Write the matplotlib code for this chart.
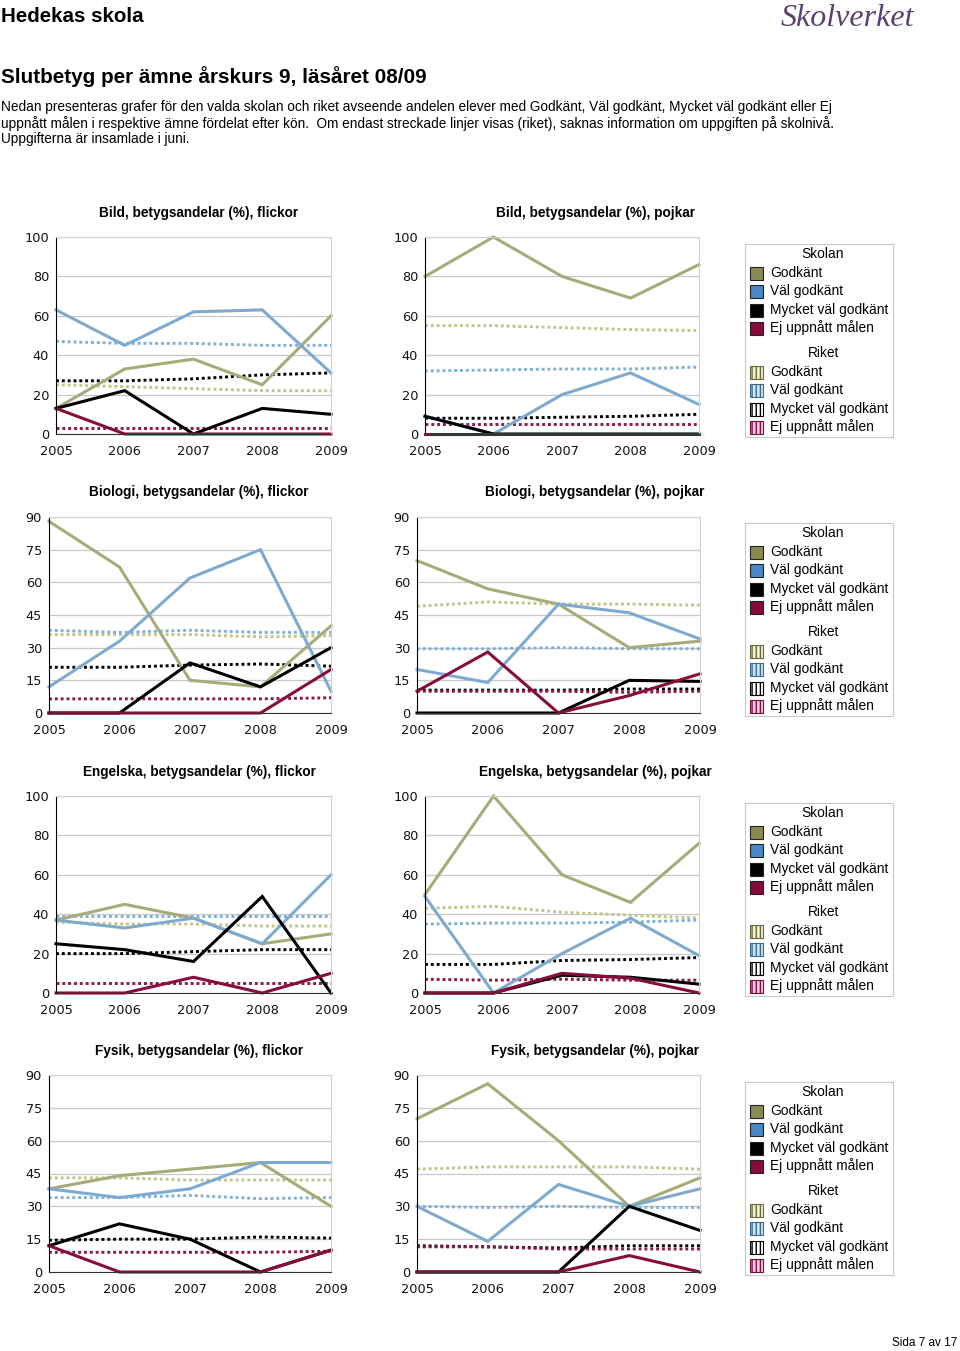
import matplotlib
matplotlib.use("Agg")
import matplotlib.pyplot as plt
from matplotlib.patches import Rectangle

# ---- data ----
years = [2005, 2006, 2007, 2008, 2009]
series_names = ["Godkänt", "Väl godkänt", "Mycket väl godkänt", "Ej uppnått målen"]

# order in each list: Godkänt, Väl godkänt, Mycket väl godkänt, Ej uppnått målen
bild_flickor_skolan = [[13, 33, 38, 25, 60], [63, 45, 62, 63, 31], [13, 22, 0, 13, 10], [13, 0, 0, 0, 0]]
bild_flickor_riket = [[25, 24, 23, 22, 22], [47, 46, 46, 45, 45], [27, 27, 28, 30, 31], [3, 3, 3, 3, 3]]
bild_pojkar_skolan = [[80, 100, 80, 69, 86], [9, 0, 20, 31, 15], [9, 0, 0, 0, 0], [0, 0, 0, 0, 0]]
bild_pojkar_riket = [[55, 55, 54, 53, 52.5], [32, 32.5, 33, 33, 34], [8, 8, 8.5, 9, 10], [5, 5, 5, 5, 5]]

bio_flickor_skolan = [[88, 67, 15, 12, 40], [12, 33, 62, 75, 10], [0, 0, 23, 12, 30], [0, 0, 0, 0, 20]]
bio_flickor_riket = [[36, 36, 36, 35, 35.5], [38, 37, 38, 37, 37], [21, 21, 22, 22.5, 21.5], [6.5, 6.5, 6.5, 6.5, 7]]
bio_pojkar_skolan = [[70, 57, 50, 30, 33], [20, 14, 50, 46, 34], [0, 0, 0, 15, 14.5], [10, 28, 0, 8, 18]]
bio_pojkar_riket = [[49, 51, 50, 50, 49.5], [29.5, 29.5, 30, 29.5, 29.5], [10.5, 10.5, 10.5, 11, 11], [10, 10, 10, 9.5, 10]]

eng_flickor_skolan = [[37, 45, 38, 25, 30], [37, 33, 38, 25, 60], [25, 22, 16, 49, 0], [0, 0, 8, 0, 10]]
eng_flickor_riket = [[36, 35, 35, 34, 34], [39, 39, 39, 39, 39], [20, 20, 21, 22, 22], [5, 5, 5, 5, 5]]
eng_pojkar_skolan = [[50, 100, 60, 46, 76], [49, 0, 20, 38, 19], [0, 0, 9, 8, 4.5], [0, 0, 10, 7.5, 0]]
eng_pojkar_riket = [[43, 44, 41, 39.5, 38], [35, 35.5, 35.5, 36, 37], [14.5, 14.5, 16.5, 17, 18], [7, 6.5, 7, 6.5, 6.5]]

fys_flickor_skolan = [[38, 44, 47, 50, 30], [38, 34, 38, 50, 50], [12, 22, 15, 0, 10], [12, 0, 0, 0, 10]]
fys_flickor_riket = [[43, 43, 42, 42, 42], [34, 34, 35, 33.5, 34], [14.5, 15, 15, 16, 15.5], [9, 9, 9, 9, 9.5]]
fys_pojkar_skolan = [[70, 86, 60, 30, 43], [30, 14, 40, 30, 38], [0, 0, 0, 30, 19], [0, 0, 0, 7.5, 0]]
fys_pojkar_riket = [[47, 48, 48, 48, 47], [30, 29.5, 30, 29.5, 29.5], [12, 11.5, 11, 12, 12], [11.5, 11.5, 10.5, 10.5, 10.5]]

titles = [
    "Bild, betygsandelar (%), flickor", "Bild, betygsandelar (%), pojkar",
    "Biologi, betygsandelar (%), flickor", "Biologi, betygsandelar (%), pojkar",
    "Engelska, betygsandelar (%), flickor", "Engelska, betygsandelar (%), pojkar",
    "Fysik, betygsandelar (%), flickor", "Fysik, betygsandelar (%), pojkar",
]

# ---- styles ----
school_colors = ["#a7ab78", "#7eaad0", "#000000", "#870d3d"]
riket_colors = ["#c3c48a", "#80b0d6", "#000000", "#8e1848"]
legend_school = ["#8a8a50", "#4a86c8", "#000000", "#860b3b"]
legend_riket_face = ["#f2f0c4", "#cfe6f2", "#ffffff", "#f4c8e0"]
legend_riket_edge = ["#6a6a40", "#3a6a90", "#000000", "#7a1040"]

W, H = 960, 1351
fig = plt.figure(figsize=(W / 100, H / 100), dpi=100)
fig.patch.set_facecolor("white")

def px_axes(x0, y0, x1, y1):
    return fig.add_axes([x0 / W, 1 - y1 / H, (x1 - x0) / W, (y1 - y0) / H])

body = ["Liberation Sans", "DejaVu Sans"]

fig.text(1 / W, 1 - 17 / H, "Hedekas skola", family=body, fontsize=14.8, weight="bold", va="center")
fig.text(781 / W, 1 - 19 / H, "Skolverket", family=["Liberation Serif"], style="italic",
         fontsize=23, color="#5c4270", va="center")
fig.text(1 / W, 1 - 77 / H, "Slutbetyg per ämne årskurs 9, läsåret 08/09", family=body,
         fontsize=14.9, weight="bold", va="center")
para = ("Nedan presenteras grafer för den valda skolan och riket avseende andelen elever med Godkänt, Väl godkänt, Mycket väl godkänt eller Ej\n"
        "uppnått målen i respektive ämne fördelat efter kön.  Om endast streckade linjer visas (riket), saknas information om uppgiften på skolnivå.\n"
        "Uppgifterna är insamlade i juni.")
fig.text(1 / W, 1 - 100 / H, para, family=body, fontsize=9.85, va="top", linespacing=1.15)
fig.text(957 / W, 1 - 1343 / H, "Sida 7 av 17", family=body, fontsize=8.5, ha="right", va="center")

charts = [
    (bild_flickor_skolan, bild_flickor_riket, 100, (56, 237, 331, 434)),
    (bild_pojkar_skolan, bild_pojkar_riket, 100, (425, 237, 699, 434)),
    (bio_flickor_skolan, bio_flickor_riket, 90, (49, 517, 331, 713)),
    (bio_pojkar_skolan, bio_pojkar_riket, 90, (417, 517, 700, 713)),
    (eng_flickor_skolan, eng_flickor_riket, 100, (56, 796, 331, 993)),
    (eng_pojkar_skolan, eng_pojkar_riket, 100, (425, 796, 699, 993)),
    (fys_flickor_skolan, fys_flickor_riket, 90, (49, 1075, 331, 1272)),
    (fys_pojkar_skolan, fys_pojkar_riket, 90, (417, 1075, 700, 1272)),
]
title_y = [213, 213, 492, 492, 772, 772, 1051, 1051]
title_x = [199, 595] * 4

for i, (skolan, riket, ymax, box) in enumerate(charts):
    ax = px_axes(*box)
    step = 20 if ymax == 100 else 15
    ax.set_xlim(years[0], years[-1])
    ax.set_ylim(0, ymax)
    ax.set_yticks(range(0, ymax + 1, step))
    ax.set_xticks(years)
    ax.grid(axis="y", color="#c8c8c8", lw=0.9)
    ax.set_axisbelow(True)
    for s in ["top", "right"]:
        ax.spines[s].set_color("#d0d0d0")
    ax.spines["left"].set_color("black")
    ax.spines["bottom"].set_color("#333333")
    ax.tick_params(length=0, labelsize=9.3, colors="#111111")
    ax.tick_params(axis="x", pad=8)
    ax.tick_params(axis="y", pad=5)
    for k in range(4):
        ax.plot(years, riket[k], color=riket_colors[k], lw=2.1, ls=(0, (1, 1)), clip_on=False)
    for k in range(4):
        ax.plot(years, skolan[k], color=school_colors[k], lw=2.2, clip_on=False,
                solid_joinstyle="miter")
    fig.text(title_x[i] / W, 1 - title_y[i] / H, titles[i], family=body, fontsize=9.8,
             weight="bold", ha="center", va="center")

# legends, one per row
for top in [244, 523, 803, 1082]:
    lg = px_axes(745, top, 893, top + 193)
    lg.set_xlim(0, 148)
    lg.set_ylim(193, 0)
    lg.set_xticks([])
    lg.set_yticks([])
    for s in lg.spines.values():
        s.set_color("#c8c8c8")
    lg.text(78, 10, "Skolan", ha="center", va="center", family=body, fontsize=9.9)
    lg.text(79, 109, "Riket", ha="center", va="center", family=body, fontsize=9.9)
    for k in range(4):
        y = 29 + k * 18.3
        lg.add_patch(Rectangle((5, y - 6), 13, 13, facecolor=legend_school[k], edgecolor="#222222", lw=0.8))
        lg.text(25, y, series_names[k], va="center", family=body, fontsize=9.9)
        y2 = 128 + k * 18.3
        lg.add_patch(Rectangle((5, y2 - 6), 13, 13, facecolor=legend_riket_face[k],
                               edgecolor=legend_riket_edge[k], hatch="||||", lw=0.8))
        lg.text(25, y2, series_names[k], va="center", family=body, fontsize=9.9)

fig.savefig("out.png", dpi=100)
